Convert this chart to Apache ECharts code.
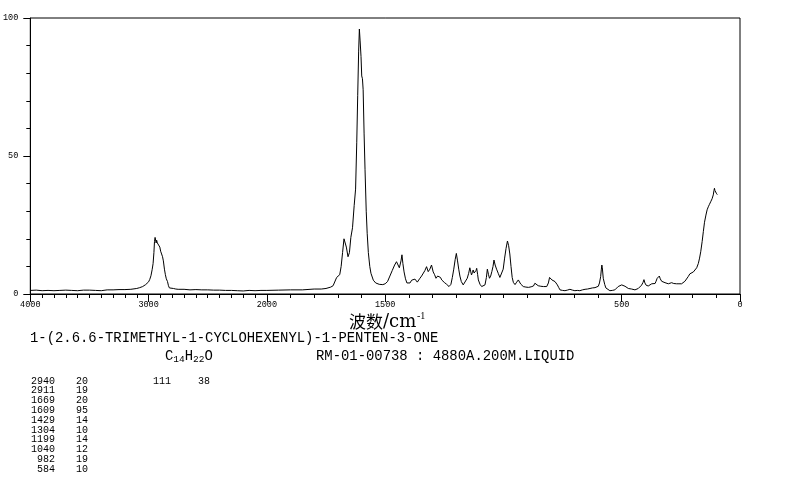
<!DOCTYPE html>
<html><head><meta charset="utf-8">
<script src="https://cdn.jsdelivr.net/npm/echarts@6/dist/echarts.min.js"></script>
<style>html,body{margin:0;padding:0;background:#fff}#c{width:794px;height:482px}</style>
</head><body><div id="c"></div>
<script>
// Raman spectrum data (wavenumber cm-1, intensity %)
const wavenumbers = [4000,3950,3900,3850,3800,3750,3700,3650,3600,3550,3500,3450,3400,3350,3300,3250,3200,3150,3100,3075,3050,3025,3000,2990,2980,2970,2962,2955,2950,2945,2940,2936,2932,2926,2920,2911,2905,2898,2890,2882,2875,2866,2858,2850,2845,2840,2832,2824,2810,2790,2770,2750,2700,2650,2600,2550,2500,2450,2400,2350,2300,2250,2200,2150,2100,2050,2000,1950,1900,1850,1800,1770,1750,1730,1720,1712,1705,1698,1692,1686,1680,1674,1669,1664,1657,1651,1645,1638,1631,1625,1620,1616,1612,1609,1606,1602,1599,1596,1593,1589,1585,1580,1576,1571,1565,1560,1550,1540,1525,1510,1500,1490,1480,1470,1460,1452,1447,1440,1433,1429,1425,1420,1414,1408,1402,1395,1388,1380,1374,1368,1364,1358,1353,1346,1339,1332,1325,1318,1311,1304,1297,1291,1285,1278,1271,1266,1261,1250,1240,1230,1222,1216,1210,1204,1199,1194,1189,1184,1178,1170,1162,1153,1147,1142,1138,1135,1131,1128,1124,1120,1116,1113,1109,1106,1099,1092,1085,1078,1072,1068,1063,1059,1054,1049,1044,1040,1035,1029,1022,1015,1008,1001,995,989,983,978,973,968,963,958,951,944,937,932,927,916,905,894,883,873,867,860,853,842,831,817,810,805,800,795,788,782,777,772,766,761,750,740,730,719,708,698,688,677,666,655,645,634,624,613,605,599,594,589,586,584,582,578,572,567,560,550,540,529,522,515,508,500,493,486,479,472,465,458,451,444,437,430,423,416,410,406,402,397,392,388,380,373,366,359,355,350,345,341,337,331,324,317,310,303,296,289,280,268,258,247,240,233,226,219,212,204,197,190,183,176,171,166,160,155,150,144,139,134,129,124,118,113,110,108,106,103,100,96];
const intensities = [1.3,1.4,1.2,1.3,1.2,1.3,1.4,1.3,1.2,1.4,1.4,1.3,1.2,1.5,1.5,1.6,1.6,1.7,2.0,2.3,2.7,3.4,4.4,5.3,6.6,8.8,11,15,19,20.5,20,18.5,19.5,18.5,18,19,17,15.5,14.5,13.5,12,9,7,5.5,5.5,4.5,3,2.2,1.8,2.0,1.8,1.7,1.7,1.5,1.6,1.5,1.5,1.4,1.4,1.3,1.3,1.2,1.1,1.3,1.2,1.3,1.3,1.4,1.5,1.5,1.8,1.8,2.0,2.5,3.0,3.5,6.0,6.5,7.0,10,15,20,20,17,13.5,15,20.5,24,32,38,55,72,88,96,92,86,79,78,74,58,45,30,22,15,10,7.5,5,4,3.5,3.4,3.7,4.5,6.5,8.5,10.5,11.7,11,9.5,12,14.2,11,8,5.5,4,3.5,4,5,5.3,5.4,5,4.3,4.8,5.7,6.5,7.2,8.5,9.9,8.1,9,10.5,8,7,5.7,6.5,6.9,6,5.1,4.2,3.5,2.7,3.5,6,9,12.5,14.7,12,9,6.5,4.5,3.3,3.8,5.7,7.5,9.5,8,6.9,7.8,8.7,7.6,7.5,8.5,9.3,7,5.1,3.5,2.7,3,3.3,6,9,7,5.7,6.5,8.1,10,12.3,10.5,9,7.5,6,6.5,9,13,16.5,19.2,17.5,14.5,10,6,4.2,3.4,4.3,5.1,4.5,3.6,2.7,2.5,2.4,2.6,2.9,3.9,3.4,3,2.8,2.7,2.7,4,6,5.5,5.1,4.8,4.5,3.8,3.3,2.3,1.5,1.3,1.2,1.4,1.7,1.4,1.2,1.3,1.2,1.5,1.7,1.8,2.0,2.2,2.3,2.6,2.8,4,6.3,9,10.5,9.5,5.7,3.5,2.2,1.6,1.2,1.3,1.5,2.0,2.7,3.1,3.3,3.0,2.8,2.4,2.0,2.1,1.8,1.5,1.5,1.8,2.0,2.3,3.2,4.2,5.2,4,3.2,3.0,2.9,3.3,3.7,3.7,3.8,4.6,5.7,6.3,6.5,5.5,4.6,4.3,4.1,3.8,3.7,3.9,4.1,3.8,3.7,3.7,3.7,4.0,4.6,5.3,6.3,7.3,7.8,8.0,8.3,9.5,11.1,13,15.3,19,22.6,26,28.6,30.5,31.6,32.5,33.4,34.5,35.9,37.5,38.3,37.5,37,36.5,36];

const xTickLabels = [4000, 3000, 2000, 1500, 500, 0];
const yTickLabels = [0, 50, 100];
const peakWavenumbers = ['2940','2911','1669','1609','1429','1304','1199','1040','982','584'];
const peakIntensities = ['20','19','20','95','14','10','14','12','19','10'];
const extraPeak = ['111', '38'];
const compoundName = '1-(2.6.6-TRIMETHYL-1-CYCLOHEXENYL)-1-PENTEN-3-ONE';
const sampleInfo = 'RM-01-00738 : 4880A.200M.LIQUID';

// Piecewise axis scale: above 2000 cm-1 the scale is compressed by 2
function toAxis(w) { return w <= 2000 ? w : 2000 + (w - 2000) / 2; }
function fromAxis(v) { return v <= 2000 ? v : 2000 + (v - 2000) * 2; }

const minorX = [];
for (let w = 0; w <= 4000; w += 100) minorX.push(toAxis(w));
const majorX = xTickLabels.map(toAxis);
const minorY = [];
for (let v = 0; v <= 100; v += 10) minorY.push(v);

const seriesData = wavenumbers.map((w, i) => [toAxis(w), intensities[i]]);

const mono = "'Liberation Mono', 'DejaVu Sans Mono', monospace";
const graphics = [];
graphics.push({type:'text', x:30, y:338, style:{text:compoundName, font:"13.9px "+mono, fill:'#000', textVerticalAlign:'middle'}});
graphics.push({type:'text', x:165, y:356, style:{
  text:'{n|C}{s|14}{n|H}{s|22}{n|O}', fill:'#000', textVerticalAlign:'middle',
  rich:{n:{fontSize:13.9, fontFamily:mono, fill:'#000'}, s:{fontSize:9.5, fontFamily:mono, fill:'#000', padding:[6,0,0,0]}}
}});
graphics.push({type:'text', x:316, y:356, style:{text:sampleInfo, font:"13.9px "+mono, fill:'#000', textVerticalAlign:'middle'}});
graphics.push({type:'text', x:349, y:322, style:{text:'波数', font:"17px 'Noto Sans CJK SC'", fill:'#000', textVerticalAlign:'middle'}});
graphics.push({type:'text', x:383, y:322, style:{text:'/cm', font:"18px 'DejaVu Serif', 'Liberation Serif', serif", fill:'#000', textVerticalAlign:'middle'}});
graphics.push({type:'text', x:417, y:316, style:{text:'-1', font:"10px 'Liberation Serif', serif", fill:'#000', textVerticalAlign:'middle'}});
peakWavenumbers.forEach((w, i) => {
  const y = 381 + i * 9.8;
  graphics.push({type:'text', x:55, y:y, style:{text:w, font:"10px "+mono, fill:'#000', textAlign:'right', textVerticalAlign:'middle'}});
  graphics.push({type:'text', x:76, y:y, style:{text:peakIntensities[i], font:"10px "+mono, fill:'#000', textVerticalAlign:'middle'}});
});
graphics.push({type:'text', x:153, y:381, style:{text:extraPeak[0], font:"10px "+mono, fill:'#000', textVerticalAlign:'middle'}});
graphics.push({type:'text', x:198, y:381, style:{text:extraPeak[1], font:"10px "+mono, fill:'#000', textVerticalAlign:'middle'}});

const chart = echarts.init(document.getElementById('c'), null, {renderer:'canvas'});
chart.setOption({
  animation: false,
  backgroundColor: '#fff',
  grid: {left:29, right:54, top:18, bottom:188, show:true, borderColor:'#000', borderWidth:1},
  xAxis: [
    {type:'value', min:0, max:3000, inverse:true, position:'bottom',
     axisLine:{show:true, onZero:false, lineStyle:{color:'#000', width:1}},
     axisTick:{show:true, customValues:minorX, length:4, lineStyle:{color:'#000'}},
     axisLabel:{show:false}, splitLine:{show:false}},
    {type:'value', min:0, max:3000, inverse:true, position:'bottom',
     axisLine:{show:false, onZero:false},
     axisTick:{show:true, customValues:majorX, length:8, lineStyle:{color:'#000'}},
     axisLabel:{show:true, customValues:majorX, formatter:v => String(Math.round(fromAxis(v))), fontSize:8.5, fontFamily:mono, color:'#000', margin:6},
     splitLine:{show:false}}
  ],
  yAxis: [
    {type:'value', min:0, max:100, position:'left',
     axisLine:{show:true, onZero:false, lineStyle:{color:'#000', width:1}},
     axisTick:{show:true, customValues:minorY, length:4, lineStyle:{color:'#000'}},
     axisLabel:{show:false}, splitLine:{show:false}},
    {type:'value', min:0, max:100, position:'left',
     axisLine:{show:false, onZero:false},
     axisTick:{show:true, customValues:yTickLabels, length:7, lineStyle:{color:'#000'}},
     axisLabel:{show:true, customValues:yTickLabels, fontSize:8.5, fontFamily:mono, color:'#000', margin:12},
     splitLine:{show:false}}
  ],
  series: [{type:'line', xAxisIndex:0, yAxisIndex:0, data:seriesData, showSymbol:false, symbol:'none',
            lineStyle:{color:'#000', width:1}, silent:true}],
  graphic: graphics
});
</script></body></html>
